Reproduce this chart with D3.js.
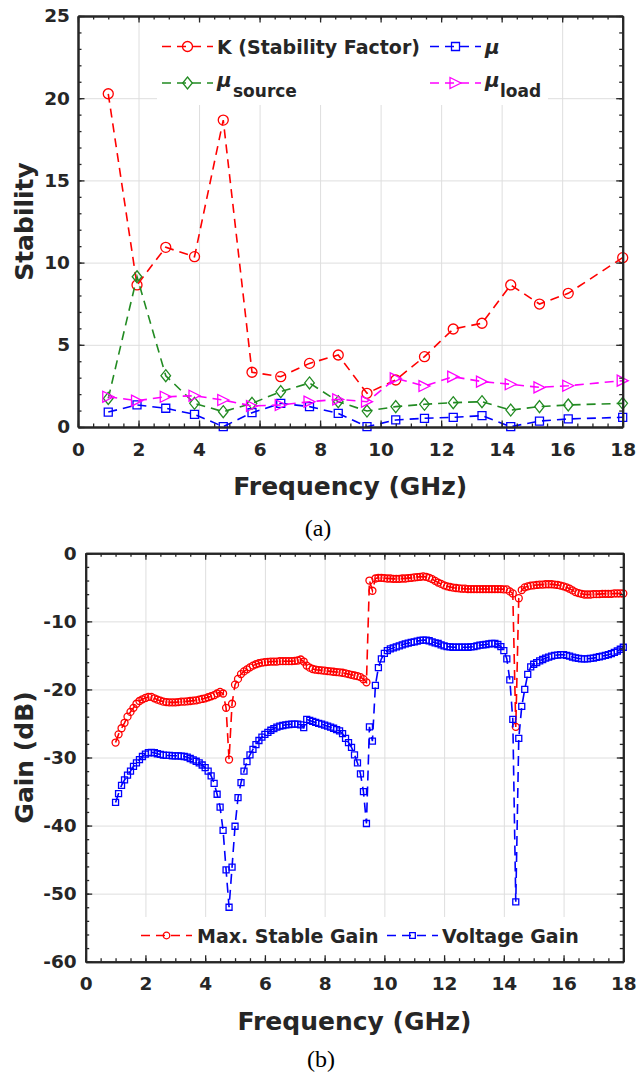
<!DOCTYPE html>
<html>
<head>
<meta charset="utf-8">
<script src="https://cdnjs.cloudflare.com/ajax/libs/d3/7.8.5/d3.min.js"></script>
<style>
  body { margin: 0; background: #fff; }
  svg { display: block; }
</style>
</head>
<body>
<script>
// ---------- (a) stability data ----------
var stabFreq = [1, 1.95, 2.9, 3.85, 4.8, 5.75, 6.7, 7.65, 8.6, 9.55, 10.5, 11.45, 12.4, 13.35, 14.3, 15.25, 16.2, 18];
var kFactor  = [20.27, 8.64, 10.93, 10.36, 18.67, 3.33, 3.06, 3.87, 4.38, 2.05, 2.86, 4.28, 5.96, 6.31, 8.64, 7.48, 8.13, 10.3];
var mu       = [0.91, 1.34, 1.14, 0.77, 0.02, 0.87, 1.44, 1.24, 0.83, 0.02, 0.43, 0.53, 0.59, 0.69, 0.02, 0.36, 0.49, 0.59];
var muSource = [1.74, 9.14, 3.12, 1.44, 0.93, 1.44, 2.15, 2.68, 1.54, 0.97, 1.24, 1.38, 1.48, 1.54, 1.03, 1.24, 1.34, 1.44];
var muLoad   = [1.84, 1.6, 1.84, 1.9, 1.64, 1.28, 1.34, 1.54, 1.68, 1.54, 2.96, 2.49, 3.06, 2.76, 2.6, 2.41, 2.51, 2.82];
var stabYTicks = [0, 5, 10, 15, 20, 25];
var freqTicks = [0, 2, 4, 6, 8, 10, 12, 14, 16, 18];

// ---------- (b) gain data ----------
var gainFreq = [
  1.0, 1.1, 1.2, 1.3, 1.4, 1.5, 1.6, 1.7, 1.8, 1.9,
  2.0, 2.1, 2.2, 2.3, 2.4, 2.5, 2.6, 2.7, 2.8, 2.9,
  3.0, 3.1, 3.2, 3.3, 3.4, 3.5, 3.6, 3.7, 3.8, 3.9,
  4.0, 4.1, 4.2, 4.3, 4.4, 4.5, 4.6, 4.7, 4.8, 4.9,
  5.0, 5.1, 5.2, 5.3, 5.4, 5.5, 5.6, 5.7, 5.8, 5.9,
  6.0, 6.1, 6.2, 6.3, 6.4, 6.5, 6.6, 6.7, 6.8, 6.9,
  7.0, 7.1, 7.2, 7.3, 7.4, 7.5, 7.6, 7.7, 7.8, 7.9,
  8.0, 8.1, 8.2, 8.3, 8.4, 8.5, 8.6, 8.7, 8.8, 8.9,
  9.0, 9.1, 9.2, 9.3, 9.4, 9.5, 9.6, 9.7, 9.8, 9.9,
  10.0, 10.1, 10.2, 10.3, 10.4, 10.5, 10.6, 10.7, 10.8, 10.9,
  11.0, 11.1, 11.2, 11.3, 11.4, 11.5, 11.6, 11.7, 11.8, 11.9,
  12.0, 12.1, 12.2, 12.3, 12.4, 12.5, 12.6, 12.7, 12.8, 12.9,
  13.0, 13.1, 13.2, 13.3, 13.4, 13.5, 13.6, 13.7, 13.8, 13.9,
  14.0, 14.1, 14.2, 14.3, 14.4, 14.5, 14.6, 14.7, 14.8, 14.9,
  15.0, 15.1, 15.2, 15.3, 15.4, 15.5, 15.6, 15.7, 15.8, 15.9,
  16.0, 16.1, 16.2, 16.3, 16.4, 16.5, 16.6, 16.7, 16.8, 16.9,
  17.0, 17.1, 17.2, 17.3, 17.4, 17.5, 17.6, 17.7, 17.8, 17.9,
  18.0];
var maxStableGain = [
  -27.8, -26.6, -25.7, -24.9, -24.0, -23.3, -22.7, -22.1, -21.7, -21.45,
  -21.25, -21.1, -21.1, -21.3, -21.5, -21.65, -21.8, -21.85, -21.9, -21.9,
  -21.9, -21.85, -21.8, -21.8, -21.75, -21.7, -21.65, -21.6, -21.5, -21.4,
  -21.3, -21.15, -21.0, -20.85, -20.6, -20.35, -20.6, -22.7, -30.3, -22.1,
  -19.3, -18.45, -17.75, -17.35, -17.05, -16.75, -16.5, -16.3, -16.15, -16.05,
  -16.0, -15.95, -15.9, -15.9, -15.9, -15.85, -15.85, -15.85, -15.85, -15.85,
  -15.8, -15.75, -15.6, -15.9, -16.5, -16.8, -17.0, -17.1, -17.15, -17.2,
  -17.25, -17.3, -17.35, -17.4, -17.45, -17.5, -17.55, -17.65, -17.75, -17.85,
  -17.95, -18.05, -18.2, -18.5, -18.95, -4.0, -5.5, -3.7, -3.6, -3.6,
  -3.65, -3.7, -3.7, -3.75, -3.75, -3.75, -3.7, -3.7, -3.65, -3.6,
  -3.55, -3.5, -3.45, -3.4, -3.45, -3.6, -3.8, -4.05, -4.3, -4.5,
  -4.7, -4.85, -4.95, -5.05, -5.1, -5.15, -5.2, -5.2, -5.25, -5.25,
  -5.25, -5.25, -5.25, -5.25, -5.25, -5.25, -5.25, -5.25, -5.25, -5.25,
  -5.3, -5.3, -5.6, -5.9, -25.5, -6.6, -5.4, -5.0, -4.85, -4.75,
  -4.7, -4.65, -4.6, -4.6, -4.55, -4.55, -4.55, -4.6, -4.65, -4.75,
  -4.85, -5.0, -5.2, -5.45, -5.7, -5.85, -5.95, -6.05, -6.05, -6.05,
  -6.0, -6.0, -6.0, -5.95, -5.95, -5.95, -5.95, -5.9, -5.9, -5.9,
  -5.9];
var voltageGain = [
  -36.6, -35.3, -34.1, -33.3, -32.6, -32.0, -31.3, -30.8, -30.3, -29.85,
  -29.5, -29.3, -29.25, -29.3, -29.45, -29.55, -29.65, -29.7, -29.7, -29.75,
  -29.75, -29.75, -29.8, -29.85, -29.95, -30.15, -30.35, -30.55, -30.8, -31.1,
  -31.5, -32.0, -32.7, -33.8, -35.4, -37.3, -40.7, -46.5, -52.0, -46.1,
  -40.1, -35.9, -33.7, -32.0, -30.6, -29.6, -28.8, -28.1, -27.5, -27.0,
  -26.6, -26.3, -26.0, -25.75, -25.55, -25.4, -25.3, -25.2, -25.15, -25.1,
  -25.1, -25.1, -25.2, -25.6, -24.4, -24.55, -24.7, -24.85, -25.0, -25.1,
  -25.25, -25.4, -25.55, -25.7, -25.9, -26.1, -26.5, -27.2, -27.8, -28.5,
  -29.6, -30.8, -32.4, -35.0, -39.7, -25.5, -27.6, -19.4, -16.8, -15.5,
  -14.7, -14.3, -14.05, -13.9, -13.75, -13.6, -13.45, -13.3, -13.2, -13.1,
  -13.0, -12.9, -12.8, -12.75, -12.75, -12.85, -13.0, -13.15, -13.25, -13.45,
  -13.6, -13.7, -13.75, -13.8, -13.8, -13.8, -13.8, -13.8, -13.8, -13.75,
  -13.7, -13.6, -13.5, -13.45, -13.4, -13.3, -13.25, -13.25, -13.4, -13.7,
  -14.3, -15.5, -18.6, -24.4, -51.2, -27.2, -22.5, -20.0, -17.8, -16.7,
  -16.3, -16.05, -15.8, -15.6, -15.4, -15.25, -15.1, -15.0, -14.95, -14.9,
  -14.9, -15.0, -15.1, -15.25, -15.35, -15.45, -15.5, -15.5, -15.5, -15.45,
  -15.4, -15.3, -15.2, -15.1, -15.0, -14.9, -14.75, -14.55, -14.35, -14.1,
  -13.8];
var gainYTicks = [0, -10, -20, -30, -40, -50, -60];

var RED = '#ff0000', BLUE = '#0000ff', GREEN = '#228b22', MAGENTA = '#ff00ff';
var INK = '#262626';
var FONT = '"DejaVu Sans", sans-serif';

var svg = d3.select('body').append('svg')
            .attr('width', 636)
            .attr('height', 1073);

// marker shapes, centred on 0,0
function markerPath(shape, s) {
  if (shape === 'circle') return 'M' + s + ',0A' + s + ',' + s + ' 0 1,1 ' + (-s) + ',0A' + s + ',' + s + ' 0 1,1 ' + s + ',0Z';
  if (shape === 'square') return 'M' + (-s) + ',' + (-s) + 'H' + s + 'V' + s + 'H' + (-s) + 'Z';
  if (shape === 'diamond') return 'M0,' + (-s * 1.25) + 'L' + s + ',0L0,' + (s * 1.25) + 'L' + (-s) + ',0Z';
  if (shape === 'triangle') return 'M' + (-s) + ',' + (-s) + 'L' + s + ',0L' + (-s) + ',' + s + 'Z';
}

function styleText(sel, size) {
  sel.attr('font-family', FONT)
     .attr('font-weight', 'bold')
     .attr('font-size', size)
     .attr('fill', INK);
}

// grid, box, inward ticks on four sides
function drawGrid(g, x, y, xMajor, yMajor) {
  var left = x.range()[0], right = x.range()[1], top = y.range()[1], bottom = y.range()[0];
  g.append('g').attr('transform', 'translate(0,' + bottom + ')')
   .call(d3.axisBottom(x).tickValues(xMajor).tickSize(-(bottom - top)).tickFormat(''))
   .call(function(s) { s.select('.domain').remove(); })
   .selectAll('line').attr('stroke', '#dedede').attr('stroke-width', 1);
  g.append('g').attr('transform', 'translate(' + left + ',0)')
   .call(d3.axisLeft(y).tickValues(yMajor).tickSize(-(right - left)).tickFormat(''))
   .call(function(s) { s.select('.domain').remove(); })
   .selectAll('line').attr('stroke', '#dedede').attr('stroke-width', 1);
}

function drawAxes(g, x, y, o) {
  var left = x.range()[0], right = x.range()[1], top = y.range()[1], bottom = y.range()[0];
  var bits = [
    [d3.axisBottom(x).tickValues(o.xMinor).tickSize(-3.5), 0, bottom],
    [d3.axisTop(x).tickValues(o.xMinor).tickSize(-3.5), 0, top],
    [d3.axisLeft(y).tickValues(o.yMinor).tickSize(-3.5), left, 0],
    [d3.axisRight(y).tickValues(o.yMinor).tickSize(-3.5), right, 0],
    [d3.axisTop(x).tickValues(o.xMajor).tickSize(-6.5), 0, top],
    [d3.axisRight(y).tickValues(o.yMajor).tickSize(-6.5), right, 0]
  ];
  bits.forEach(function(b) {
    var a = g.append('g').attr('transform', 'translate(' + b[1] + ',' + b[2] + ')')
             .call(b[0].tickFormat('').tickSizeOuter(0));
    a.selectAll('line').attr('stroke', INK).attr('stroke-width', 1.3);
    a.select('.domain').attr('stroke', INK).attr('stroke-width', 2);
  });
  var xb = g.append('g').attr('transform', 'translate(0,' + bottom + ')')
            .call(d3.axisBottom(x).tickValues(o.xMajor).tickSize(-6.5).tickSizeOuter(0)
                    .tickPadding(o.xPad).tickFormat(function(d) { return String(d); }));
  xb.selectAll('line').attr('stroke', INK).attr('stroke-width', 1.3);
  xb.select('.domain').attr('stroke', INK).attr('stroke-width', 2);
  styleText(xb, 18.5);
  xb.selectAll('text').attr('fill', INK);
  var yl = g.append('g').attr('transform', 'translate(' + left + ',0)')
            .call(d3.axisLeft(y).tickValues(o.yMajor).tickSize(-6.5).tickSizeOuter(0)
                    .tickPadding(o.yPad).tickFormat(function(d) { return String(d); }));
  yl.selectAll('line').attr('stroke', INK).attr('stroke-width', 1.3);
  yl.select('.domain').attr('stroke', INK).attr('stroke-width', 2);
  styleText(yl, 18.5);
  yl.selectAll('text').attr('fill', INK);
}

function drawSeries(g, pts, x, y, color, shape, size, dash) {
  var line = d3.line().x(function(d) { return x(d[0]); }).y(function(d) { return y(d[1]); });
  g.append('path').datum(pts)
   .attr('d', line)
   .attr('fill', 'none')
   .attr('stroke', color)
   .attr('stroke-width', 1.6)
   .attr('stroke-dasharray', dash);
  g.selectAll(null).data(pts).enter().append('path')
   .attr('transform', function(d) { return 'translate(' + x(d[0]) + ',' + y(d[1]) + ')'; })
   .attr('d', markerPath(shape, size))
   .attr('fill', 'none')
   .attr('stroke', color)
   .attr('stroke-width', 1.3);
}

function legendItem(g, x1, yc, color, shape, size, dash) {
  g.append('line').attr('x1', x1).attr('x2', x1 + 51).attr('y1', yc).attr('y2', yc)
   .attr('stroke', color).attr('stroke-width', 1.6).attr('stroke-dasharray', dash);
  g.append('path').attr('transform', 'translate(' + (x1 + 25.5) + ',' + yc + ')')
   .attr('d', markerPath(shape, size))
   .attr('fill', 'none').attr('stroke', color).attr('stroke-width', 1.3);
}

// ================= (a) Stability =================
var xA = d3.scaleLinear().domain([0, 18]).range([78, 622.7]);
var yA = d3.scaleLinear().domain([0, 25]).range([427, 16]);
var gA = svg.append('g');

drawGrid(gA, xA, yA, freqTicks, stabYTicks);
gA.append('rect').attr('x', 157).attr('y', 18).attr('width', 391).attr('height', 87).attr('fill', '#fff');

drawSeries(gA, d3.zip(stabFreq, kFactor), xA, yA, RED, 'circle', 5, '9,6');
drawSeries(gA, d3.zip(stabFreq, mu), xA, yA, BLUE, 'square', 4, '9,6');
drawSeries(gA, d3.zip(stabFreq, muSource), xA, yA, GREEN, 'diamond', 4.8, '9,6');
drawSeries(gA, d3.zip(stabFreq, muLoad), xA, yA, MAGENTA, 'triangle', 5.5, '9,6');

drawAxes(gA, xA, yA, {
  xMajor: freqTicks, xMinor: d3.range(0, 18.01, 0.5),
  yMajor: stabYTicks, yMinor: d3.range(0, 25.01, 1),
  xPad: 16, yPad: 8
});

// legend (a)
legendItem(gA, 162, 46.5, RED, 'circle', 5, '9,6');
legendItem(gA, 430, 46.5, BLUE, 'square', 4, '9,6');
legendItem(gA, 162, 83, GREEN, 'diamond', 4.8, '9,6');
legendItem(gA, 430, 83, MAGENTA, 'triangle', 5.5, '9,6');
styleText(gA.append('text').attr('x', 217).attr('y', 53.5).text('K (Stability Factor)'), 19);
styleText(gA.append('text').attr('x', 485).attr('y', 53.5).attr('font-style', 'italic').text('μ'), 20);
var ls = gA.append('text').attr('x', 217).attr('y', 87);
styleText(ls, 20);
ls.append('tspan').attr('font-style', 'italic').text('μ');
ls.append('tspan').attr('x', 233).attr('y', 96.5).attr('font-size', 17).text('source');
var ll = gA.append('text').attr('x', 485).attr('y', 87);
styleText(ll, 20);
ll.append('tspan').attr('font-style', 'italic').text('μ');
ll.append('tspan').attr('x', 500).attr('y', 96.5).attr('font-size', 17).text('load');

styleText(gA.append('text').attr('x', 350.3).attr('y', 495).attr('text-anchor', 'middle').text('Frequency (GHz)'), 25);
styleText(gA.append('text').attr('transform', 'translate(33,221.5) rotate(-90)').attr('text-anchor', 'middle').text('Stability'), 25);

svg.append('text').attr('x', 318).attr('y', 536).attr('text-anchor', 'middle')
   .attr('font-family', '"Liberation Serif", serif').attr('font-size', 24).attr('fill', '#000').text('(a)');

// ================= (b) Gain =================
var xB = d3.scaleLinear().domain([0, 18]).range([85.7, 623.3]);
var yB = d3.scaleLinear().domain([-60, 0]).range([961.7, 553.3]);
var gB = svg.append('g');

drawGrid(gB, xB, yB, freqTicks, gainYTicks);
gB.append('rect').attr('x', 137).attr('y', 917).attr('width', 453).attr('height', 44).attr('fill', '#fff');

drawSeries(gB, d3.zip(gainFreq, maxStableGain), xB, yB, RED, 'circle', 3.5, '10,6');
drawSeries(gB, d3.zip(gainFreq, voltageGain), xB, yB, BLUE, 'square', 3, '10,6');

drawAxes(gB, xB, yB, {
  xMajor: freqTicks, xMinor: d3.range(0, 18.01, 0.5),
  yMajor: gainYTicks, yMinor: d3.range(-60, 0.01, 2),
  xPad: 15, yPad: 9
});

// legend (b)
legendItem(gB, 141, 935.5, RED, 'circle', 3.3, '9,6');
legendItem(gB, 387, 935.5, BLUE, 'square', 2.8, '9,6');
styleText(gB.append('text').attr('x', 197).attr('y', 943).text('Max. Stable Gain'), 19);
styleText(gB.append('text').attr('x', 442).attr('y', 943).text('Voltage Gain'), 19);

styleText(gB.append('text').attr('x', 354.5).attr('y', 1030).attr('text-anchor', 'middle').text('Frequency (GHz)'), 25);
styleText(gB.append('text').attr('transform', 'translate(33,757.5) rotate(-90)').attr('text-anchor', 'middle').text('Gain (dB)'), 25);

svg.append('text').attr('x', 321).attr('y', 1066.5).attr('text-anchor', 'middle')
   .attr('font-family', '"Liberation Serif", serif').attr('font-size', 24).attr('fill', '#000').text('(b)');
</script>
</body>
</html>
